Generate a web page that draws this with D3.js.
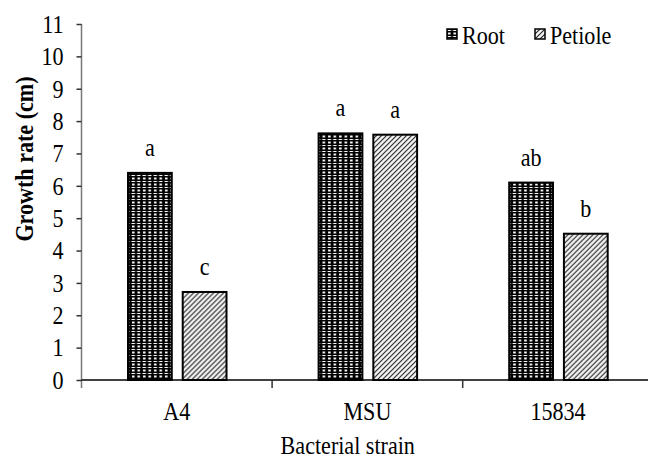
<!DOCTYPE html>
<html>
<head>
<meta charset="utf-8">
<script src="https://cdn.jsdelivr.net/npm/d3@7"></script>
<style>
  body { margin: 0; background: #fff; }
</style>
</head>
<body>
<div id="chart"></div>
<script>
// data
const strains = ["A4", "MSU", "15834"];
const series = ["Root", "Petiole"];
const rootValues = [6.4, 7.62, 6.1];
const petioleValues = [2.72, 7.58, 4.52];
const rootLetters = ["a", "a", "ab"];
const petioleLetters = ["c", "a", "b"];
const yTicks = [0, 1, 2, 3, 4, 5, 6, 7, 8, 9, 10, 11];

const W = 648, H = 458;
const fs = 26, squeeze = 0.85;
const serif = "'Liberation Serif', 'Times New Roman', 'DejaVu Serif', serif";

const svg = d3.select("#chart").append("svg")
    .attr("width", W)
    .attr("height", H);

const defs = svg.append("defs");

// root: black with white dashes and dots
const pr = defs.append("pattern")
    .attr("id", "rootPat")
    .attr("patternUnits", "userSpaceOnUse")
    .attr("width", 5.5).attr("height", 6);
pr.append("rect").attr("width", 5.5).attr("height", 6).attr("fill", "#000");
pr.append("rect").attr("x", 0.5).attr("y", 1).attr("width", 3.5).attr("height", 1).attr("fill", "#fff");
pr.append("rect").attr("x", 1).attr("y", 3.5).attr("width", 2.5).attr("height", 2).attr("fill", "#fff");

// petiole: light with dark diagonal hatch
const pp = defs.append("pattern")
    .attr("id", "petPat")
    .attr("patternUnits", "userSpaceOnUse")
    .attr("width", 5).attr("height", 5);
pp.append("rect").attr("width", 5).attr("height", 5).attr("fill", "#f4f4f4");
pp.append("path").attr("d", "M-1,6 L6,-1 M-1,1 L1,-1 M4,6 L6,4")
    .attr("stroke", "#222").attr("stroke-width", 1.1);

const fills = {Root: "url(#rootPat)", Petiole: "url(#petPat)"};

const x0 = 81.5, catW = 190.6;
const x = d3.scaleBand()
    .domain(strains)
    .range([x0, x0 + catW * strains.length])
    .paddingInner(0).paddingOuter(0);

const xs = d3.scaleBand()
    .domain(series)
    .range([46.5, 46.5 + 98.5])
    .paddingInner(0.2);

const y = d3.scaleLinear()
    .domain([0, 11])
    .range([380, 24]);

function label(g, px, py, str, anchor, weight) {
    return g.append("text")
        .attr("transform", `translate(${px},${py}) scale(${squeeze},1)`)
        .attr("text-anchor", anchor || "middle")
        .attr("font-size", fs)
        .attr("font-weight", weight || "normal")
        .text(str);
}

// bars
const rows = strains.map((s, i) => ({
    strain: s,
    bars: [
        {key: "Root", value: rootValues[i], letter: rootLetters[i]},
        {key: "Petiole", value: petioleValues[i], letter: petioleLetters[i]}
    ]
}));

const groups = svg.selectAll(".grp")
    .data(rows)
    .join("g")
    .attr("class", "grp")
    .attr("transform", d => `translate(${x(d.strain)},0)`);

groups.selectAll("rect")
    .data(d => d.bars)
    .join("rect")
    .attr("x", d => xs(d.key))
    .attr("y", d => y(d.value))
    .attr("width", xs.bandwidth())
    .attr("height", d => y(0) - y(d.value))
    .attr("fill", d => fills[d.key])
    .attr("stroke", "#000")
    .attr("stroke-width", 2);

groups.each(function (d) {
    const g = d3.select(this);
    d.bars.forEach(b => {
        label(g, xs(b.key) + xs.bandwidth() / 2, y(b.value) - 17, b.letter);
    });
});

// y axis
const yAxis = svg.append("g")
    .attr("transform", `translate(${x0},0)`)
    .call(d3.axisLeft(y).tickValues(yTicks).tickSize(5).tickFormat(d3.format("d")));
yAxis.select(".domain").attr("stroke", "#777").attr("stroke-width", 1.5)
    .attr("d", `M0,${y(11)}V388`);
yAxis.selectAll(".tick line").attr("stroke", "#333").attr("stroke-width", 1.5);
yAxis.selectAll(".tick text")
    .attr("x", null)
    .attr("transform", `translate(-18,0) scale(${squeeze},1)`)
    .attr("font-size", fs)
    .attr("fill", "#000");

// x axis: labels at centres, ticks at category boundaries
const xAxis = svg.append("g")
    .attr("transform", `translate(0,${y(0)})`)
    .call(d3.axisBottom(x).tickSize(0));
xAxis.select(".domain").attr("stroke", "#000").attr("stroke-width", 1.5)
    .attr("d", `M${x0},0H${W}`);
xAxis.selectAll(".tick text")
    .attr("y", null).attr("dy", null)
    .attr("transform", `translate(0,40) scale(${squeeze},1)`)
    .attr("font-size", fs)
    .attr("fill", "#000");

xAxis.selectAll(".bound")
    .data(strains.slice(1))
    .join("line")
    .attr("class", "bound")
    .attr("x1", d => x(d)).attr("x2", d => x(d))
    .attr("y1", 0).attr("y2", 8)
    .attr("stroke", "#333").attr("stroke-width", 1.5);

// axis titles
label(svg, (x0 + W) / 2 - 17, 454, "Bacterial strain");
svg.append("text")
    .attr("transform", `translate(33,159) rotate(-90) scale(${squeeze},1)`)
    .attr("text-anchor", "middle")
    .attr("font-size", fs)
    .attr("font-weight", "bold")
    .text("Growth rate (cm)");

// legend
const legend = svg.selectAll(".leg")
    .data(series)
    .join("g")
    .attr("class", "leg")
    .attr("transform", (d, i) => `translate(${[447, 535][i]},29)`);
legend.append("rect")
    .attr("width", 10).attr("height", 10)
    .attr("fill", d => fills[d])
    .attr("stroke", "#000").attr("stroke-width", 1.5);
legend.each(function (d) {
    label(d3.select(this), 15, 15, d, "start");
});

// one font for every label
svg.selectAll("g").attr("font-family", null);
svg.selectAll("text").style("font-family", serif).style("fill", "#000");
</script>
</body>
</html>
